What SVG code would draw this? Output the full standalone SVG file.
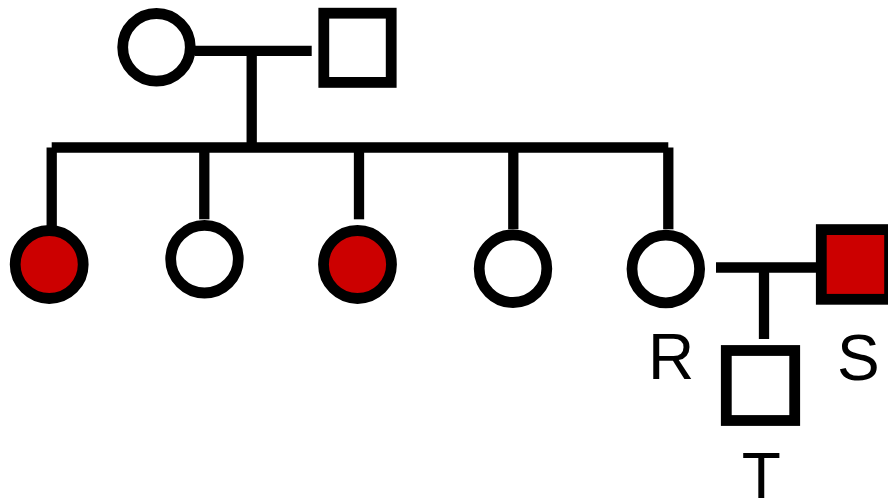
<svg xmlns="http://www.w3.org/2000/svg" width="888" height="501" viewBox="0 0 888 501">
<style>
.ln{stroke:#000;stroke-width:10.3;fill:none;stroke-linecap:butt}
.sym{stroke:#000;stroke-width:10.8}
.u{fill:#fff}
.a{fill:#cc0000}
.lbl{font-family:"Liberation Sans",Arial,sans-serif;font-size:64px;fill:#000;text-anchor:middle}
</style>
<rect width="888" height="501" fill="#fff"/>
<g id="connectors">
<line class="ln" x1="195" y1="50.8" x2="311.7" y2="50.8"/>
<line class="ln" x1="251.7" y1="50.8" x2="251.7" y2="147.5"/>
<line class="ln" x1="51.7" y1="147.5" x2="668.3" y2="147.5"/>
<line class="ln" x1="51.7" y1="147.5" x2="51.7" y2="227"/>
<line class="ln" x1="204.3" y1="147.5" x2="204.3" y2="219.3"/>
<line class="ln" x1="359" y1="147.5" x2="359" y2="219.3"/>
<line class="ln" x1="513.3" y1="147.5" x2="513.3" y2="229.3"/>
<line class="ln" x1="668.3" y1="147.5" x2="668.3" y2="229.3"/>
<line class="ln" x1="716" y1="267.5" x2="817" y2="267.5"/>
<line class="ln" x1="764" y1="267.5" x2="764" y2="339"/>
</g>
<g id="mother"><circle class="sym u" cx="156.5" cy="47.3" r="33.8"/></g>
<g id="father"><rect class="sym u" x="323.8" y="13.2" width="67.4" height="69.2"/></g>
<g id="child1"><circle class="sym a" cx="49.2" cy="264.5" r="34"/></g>
<g id="child2"><circle class="sym u" cx="204.5" cy="259.2" r="33.8"/></g>
<g id="child3"><circle class="sym a" cx="357.5" cy="264.5" r="34"/></g>
<g id="child4"><circle class="sym u" cx="513" cy="268.7" r="33.8"/></g>
<g id="R"><circle class="sym u" cx="665.8" cy="269" r="33.8"/><text class="lbl" x="671.2" y="379">R</text></g>
<g id="S"><rect class="sym a" x="821.3" y="229.6" width="68.3" height="69.7"/><text class="lbl" x="858.3" y="379.5">S</text></g>
<g id="T"><rect class="sym u" x="726.3" y="350.5" width="68.4" height="70"/><text class="lbl" x="761.3" y="497.5">T</text></g>
</svg>
